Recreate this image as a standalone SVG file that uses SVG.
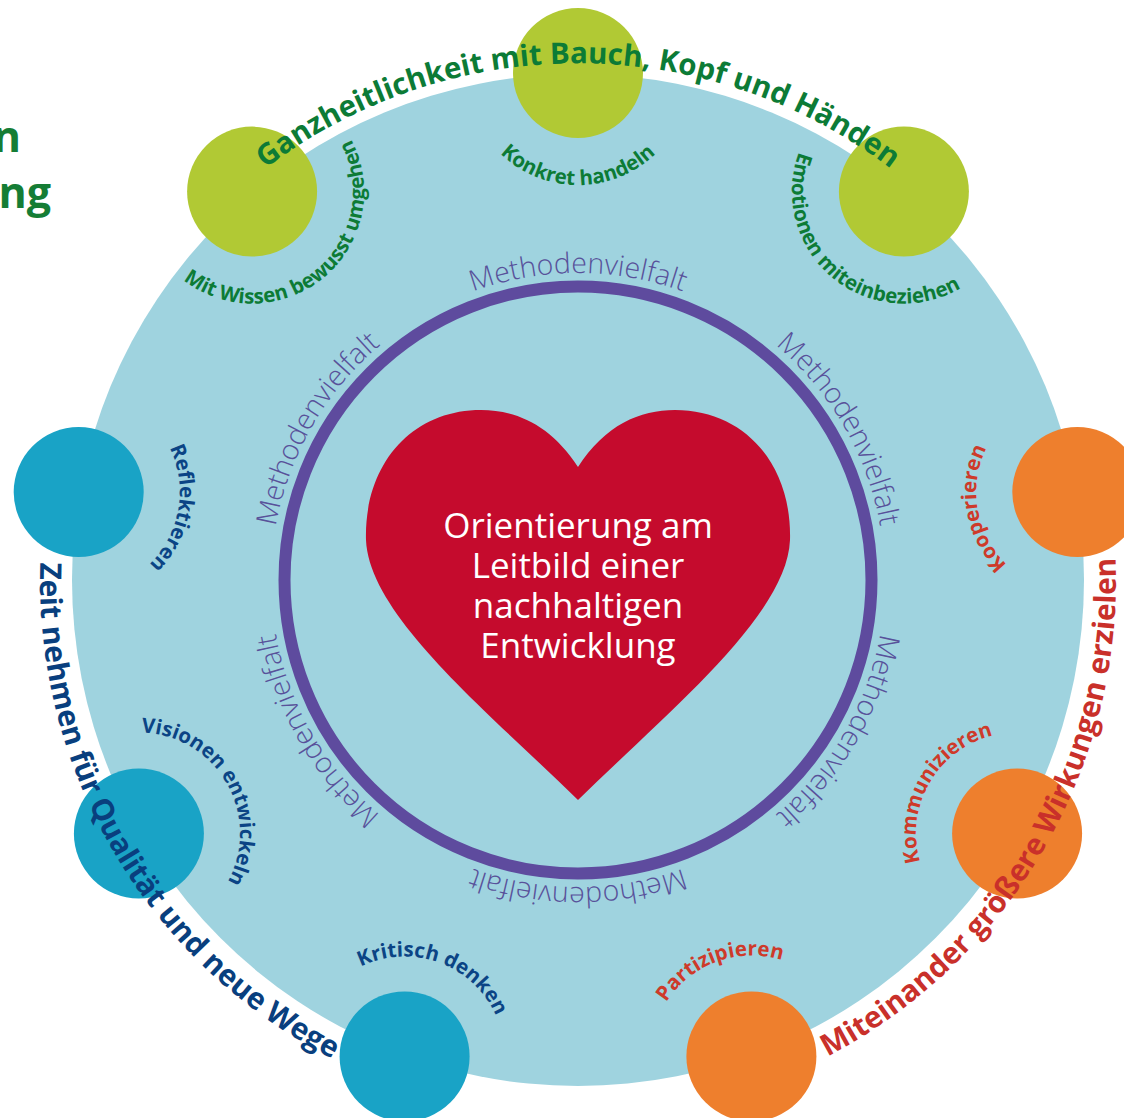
<svg xmlns="http://www.w3.org/2000/svg" width="1124" height="1118" viewBox="0 0 1124 1118">
<style>
.node-g{fill:#b1c934}
.node-b{fill:#19a3c6}
.node-o{fill:#ee7f2d}
.lbl{font-family:"Open Sans","Noto Sans",sans-serif;font-weight:700;font-size:20.5px}
.title{font-family:"Open Sans","Noto Sans",sans-serif;font-weight:700;font-size:29.8px}
.title-top{font-size:29.5px}
.tg{fill:#0c7b36}
.tb{fill:#0b4485}
.tr{fill:#ce3a2a}
.meth{font-family:"Open Sans","Noto Sans",sans-serif;font-weight:300;font-size:28.5px;fill:#58519a}
.heart-t{font-family:"Open Sans","Noto Sans",sans-serif;font-size:35px;fill:#ffffff;text-anchor:middle}
</style>
<defs>
<path id="p-top" d="M 68.8 669.8 A 517 517 0 1 1 1087.2 669.8"/>
<path id="p-left" d="M 389.6 76.1 A 538 538 0 1 0 927.4 989.1"/>
<path id="p-right" d="M 232.2 992.1 A 538 538 0 1 0 762 74.4"/>
<path id="p-meth" d="M 424.5 314.1 A 307 307 0 1 1 731.5 845.9 A 307 307 0 1 1 424.5 314.1"/>
<path id="p-n0" d="M 467.7 53.6 A 112 112 0 1 0 688.3 53.6"/>
<path id="p-n1" d="M 155.1 247.6 A 112 112 0 1 0 324.1 105.8"/>
<path id="p-n2" d="M 831.9 105.8 A 112 112 0 1 0 1000.9 247.6"/>
<path id="p-n3" d="M 78.7 391 A 101 101 0 1 1 44.2 586.9"/>
<path id="p-n4" d="M 74 756.1 A 101 101 0 1 1 173.4 928.4"/>
<path id="p-n5" d="M 306.1 1039 A 100 100 0 1 1 491.2 1106.4"/>
<path id="p-n6" d="M 1111.8 586.9 A 101 101 0 1 1 1077.3 391"/>
<path id="p-n7" d="M 982.6 928.4 A 101 101 0 1 1 1082 756.1"/>
<path id="p-n8" d="M 663.9 1106.9 A 101 101 0 1 1 850.9 1038.9"/>
</defs>
<rect width="1124" height="1118" fill="#ffffff"/>
<g id="backdrop">
<circle cx="578" cy="580" r="506" fill="#9fd3df"/>
</g>
<g id="ring">
<circle cx="578" cy="580" r="293.5" fill="none" stroke="#5e4b9e" stroke-width="12"/>
<text class="meth"><textPath href="#p-meth" startOffset="8.333%" text-anchor="middle">Methodenvielfalt</textPath></text>
<text class="meth"><textPath href="#p-meth" startOffset="25%" text-anchor="middle">Methodenvielfalt</textPath></text>
<text class="meth"><textPath href="#p-meth" startOffset="41.667%" text-anchor="middle">Methodenvielfalt</textPath></text>
<text class="meth"><textPath href="#p-meth" startOffset="58.333%" text-anchor="middle">Methodenvielfalt</textPath></text>
<text class="meth"><textPath href="#p-meth" startOffset="75%" text-anchor="middle">Methodenvielfalt</textPath></text>
<text class="meth"><textPath href="#p-meth" startOffset="91.667%" text-anchor="middle">Methodenvielfalt</textPath></text>
</g>
<g id="heart">
<path d="M 578 467 C 605 425 640 410 675 410 C 745 410 792 465 790 540 C 787 615 670 710 578 800 C 486 710 369 615 366 540 C 364 465 411 410 481 410 C 516 410 551 425 578 467 Z" fill="#c50b2d"/>
<text class="heart-t" x="578" y="538">Orientierung am</text>
<text class="heart-t" x="578" y="578">Leitbild einer</text>
<text class="heart-t" x="578" y="618">nachhaltigen</text>
<text class="heart-t" x="578" y="658">Entwicklung</text>
</g>
<g id="connectors"></g>
<g id="node-konkret">
<circle class="node-g" cx="578" cy="73" r="65"/>
<text class="lbl tg"><textPath href="#p-n0" startOffset="50%" text-anchor="middle">Konkret handeln</textPath></text>
</g>
<g id="node-wissen">
<circle class="node-g" cx="252.1" cy="191.6" r="65"/>
<text class="lbl tg"><textPath href="#p-n1" startOffset="50%" text-anchor="middle">Mit Wissen bewusst umgehen</textPath></text>
</g>
<g id="node-emotionen">
<circle class="node-g" cx="903.9" cy="191.6" r="65"/>
<text class="lbl tg"><textPath href="#p-n2" startOffset="50%" text-anchor="middle">Emotionen miteinbeziehen</textPath></text>
</g>
<g id="node-reflektieren">
<circle class="node-b" cx="78.7" cy="492" r="65"/>
<text class="lbl tb"><textPath href="#p-n3" startOffset="50%" text-anchor="middle">Reflektieren</textPath></text>
</g>
<g id="node-visionen">
<circle class="node-b" cx="138.9" cy="833.5" r="65"/>
<text class="lbl tb"><textPath href="#p-n4" startOffset="50%" text-anchor="middle">Visionen entwickeln</textPath></text>
</g>
<g id="node-kritisch">
<circle class="node-b" cx="404.6" cy="1056.4" r="65"/>
<text class="lbl tb"><textPath href="#p-n5" startOffset="50%" text-anchor="middle">Kritisch denken</textPath></text>
</g>
<g id="node-kooperieren">
<circle class="node-o" cx="1077.3" cy="492" r="65"/>
<text class="lbl tr"><textPath href="#p-n6" startOffset="50%" text-anchor="middle">Kooperieren</textPath></text>
</g>
<g id="node-kommunizieren">
<circle class="node-o" cx="1017.1" cy="833.5" r="65"/>
<text class="lbl tr"><textPath href="#p-n7" startOffset="50%" text-anchor="middle">Kommunizieren</textPath></text>
</g>
<g id="node-partizipieren">
<circle class="node-o" cx="751.4" cy="1056.4" r="65"/>
<text class="lbl tr"><textPath href="#p-n8" startOffset="50%" text-anchor="middle">Partizipieren</textPath></text>
</g>
<g id="titles">
<text class="title title-top" fill="#0c7b36"><textPath href="#p-top" startOffset="50%" text-anchor="middle">Ganzheitlichkeit mit Bauch, Kopf und Händen</textPath></text>
<text class="title" fill="#093f7e"><textPath href="#p-left" startOffset="50%" text-anchor="middle">Zeit nehmen für Qualität und neue Wege</textPath></text>
<text class="title" fill="#c9302a"><textPath href="#p-right" startOffset="50%" text-anchor="middle">Miteinander größere Wirkungen erzielen</textPath></text>
</g>
<g id="cut-title" font-family="Open Sans, Noto Sans, sans-serif" font-weight="700" font-size="43" fill="#157d35" text-anchor="end">
<text x="21" y="152">n</text>
<text x="51" y="208">ng</text>
</g>
</svg>
